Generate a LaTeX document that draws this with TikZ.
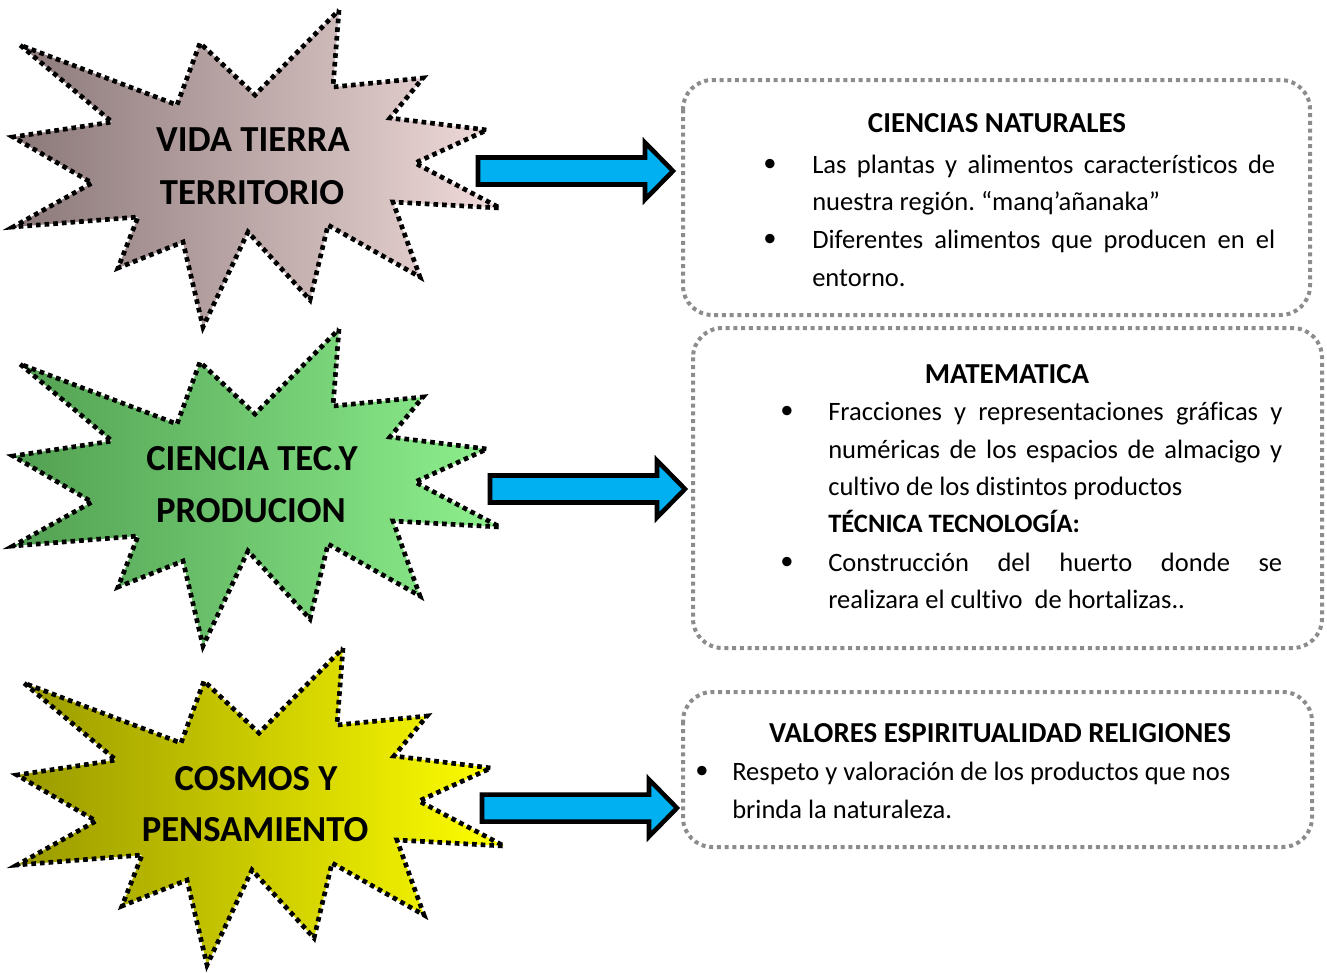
\documentclass[tikz,border=0pt]{standalone}
\usepackage{fontspec}
\setmainfont[Ligatures=NoCommon]{Carlito}
\frenchspacing
\newlength\pxu \setlength\pxu{0.75pt}
\definecolor{arrowblue}{HTML}{00B0F0}
\definecolor{boxgray}{HTML}{8C8C8C}
\definecolor{sAl}{HTML}{8B7878}\definecolor{sAr}{HTML}{F0DADA}
\definecolor{sBl}{HTML}{52A052}\definecolor{sBr}{HTML}{8EF08E}
\definecolor{sCl}{HTML}{999900}\definecolor{sCr}{HTML}{FFFF00}
\newcommand\starshape[3]{%
  \path[starline, left color=#2, right color=#3, shift={#1}]
  (339,10) -- (333,87) -- (423,78) -- (390,118) -- (487,130) -- (415,163) --
  (500,208) -- (393,202) -- (420,277) -- (328,225) -- (310,300) -- (248,232) --
  (203,327) -- (183,242) -- (118,268) -- (138,217) -- (13,227) -- (92,183) --
  (13,137) -- (112,122) -- (20,45) -- (177,105) -- (200,43) -- (255,95) -- cycle;}
\newcommand\blockarrow[3]{%
  \draw[barrow] (#1,#2-13.5) -- (#3-28,#2-13.5) -- (#3-28,#2-28.5) -- (#3,#2) --
  (#3-28,#2+28.5) -- (#3-28,#2+13.5) -- (#1,#2+13.5) -- cycle;}
\newcommand\jl[2]{\makebox[#1\pxu][s]{#2}}
\begin{document}
\begin{tikzpicture}[x=0.75pt,y=-0.75pt,
  starline/.style={draw=black, line width=3.5pt, dash pattern=on 3.5pt off 3pt},
  box/.style={draw=boxgray, line width=3pt, dash pattern=on 3pt off 2.8pt, rounded corners=22pt},
  barrow/.style={draw=black, line width=3.4pt, fill=arrowblue, line join=miter},
  startext/.style={font=\fontsize{27.5}{33}\selectfont\bfseries, inner sep=0pt},
  body/.style={font=\fontsize{19.9}{24}\selectfont, inner sep=0pt, anchor=mid west},
  bodyb/.style={font=\fontsize{19.9}{24}\selectfont\bfseries, inner sep=0pt, anchor=mid west},
  ttl/.style={font=\fontsize{21.7}{26}\selectfont\bfseries, inner sep=0pt},
  bul/.style={font=\fontsize{19.9}{24}\selectfont, inner sep=0pt}]
\useasboundingbox (0,0) rectangle (1327,972);
% stars
\starshape{(0,0)}{sAl}{sAr}
\starshape{(0,319)}{sBl}{sBr}
\starshape{(4,638)}{sCl}{sCr}
\node[startext] (s1a) at (253,140) {VIDA TIERRA};
\node[startext] (s1b) at (252,193) {TERRITORIO};
\node[startext] (s2a) at (252,459) {CIENCIA TEC.Y};
\node[startext] (s2b) at (251,511) {PRODUCION};
\node[startext] (s3a) at (256,779) {COSMOS Y};
\node[startext] (s3b) at (255,830) {PENSAMIENTO};
% arrows
\blockarrow{478}{171}{673}
\blockarrow{490}{489}{685}
\blockarrow{482}{808}{677}
% boxes
\draw[box] (683,80) rectangle (1310,315);
\draw[box] (693,328) rectangle (1322,648);
\draw[box] (683,692) rectangle (1312,847);
% box 1
\node[ttl] (t1) at (997,123) {CIENCIAS NATURALES};
\node[bul] (b11) at (770,165) {\textbullet};
\node[body] (l11) at (812,170) {\jl{463}{Las plantas y alimentos característicos de}};
\node[body] (l12) at (812,207) {nuestra región. “manq’añanaka”};
\node[bul] (b12) at (770,240) {\textbullet};
\node[body] (l13) at (812,245) {\jl{463}{Diferentes alimentos que producen en el}};
\node[body] (l14) at (812,283) {entorno.};
% box 2
\node[ttl] (t2) at (1007,374) {MATEMATICA};
\node[bul] (b21) at (787,412) {\textbullet};
\node[body] (l21) at (828,417) {\jl{454}{Fracciones y representaciones gráficas y}};
\node[body] (l22) at (828,455) {\jl{454}{numéricas de los espacios de almacigo y}};
\node[body] (l23) at (828,492) {cultivo de los distintos productos};
\node[bodyb] (l24) at (828,529) {TÉCNICA TECNOLOGÍA:};
\node[bul] (b22) at (787,563) {\textbullet};
\node[body] (l25) at (828,568) {\jl{454}{Construcción del huerto donde se}};
\node[body] (l26) at (828,605) {realizara el cultivo\ \ de hortalizas..};
% box 3
\node[ttl] (t3) at (1000,733) {VALORES ESPIRITUALIDAD RELIGIONES};
\node[bul] (b31) at (702,772) {\textbullet};
\node[body] (l31) at (732,777) {Respeto y valoración de los productos que nos};
\node[body] (l32) at (732,815) {brinda la naturaleza.};
\end{tikzpicture}
\end{document}
